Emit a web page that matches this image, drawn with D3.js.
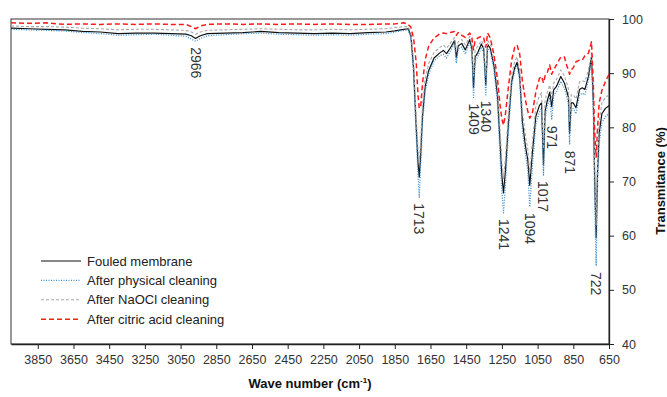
<!DOCTYPE html>
<html>
<head>
<meta charset="utf-8">
<style>
    body { margin: 0; background: #fff; }
    svg { font-family: "Liberation Sans", Arial, sans-serif; }
    .axis .domain { stroke: #222; stroke-width: 1.3px; }
    .axis .tick line { stroke: #222; }
    .axis .tick text { font-size: 12.5px; fill: #333; }
    .axis-title { font-size: 13px; font-weight: bold; fill: #111; }
    .peak { font-size: 14px; fill: #333; }
    .legend-text { font-size: 13px; fill: #222; }
</style>
</head>
<body>
<svg width="667" height="397"></svg>
<script src="https://d3js.org/d3.v7.min.js"></script>
<script>
// wave numbers (cm-1)
const waveNumbers = [
    4000, 3900, 3800, 3700, 3600, 3500, 3400, 3300, 3200, 3100,
    3020, 2990, 2966, 2940, 2900, 2800, 2700, 2600, 2500, 2400,
    2300, 2200, 2100, 2000, 1900, 1850, 1800, 1775, 1760, 1745,
    1730, 1720, 1713, 1705, 1695, 1680, 1660, 1630, 1600, 1578,
    1560, 1540, 1515, 1505, 1495, 1475, 1455, 1430, 1418, 1409,
    1400, 1385, 1365, 1352, 1340, 1330, 1315, 1295, 1275, 1260,
    1250, 1241, 1230, 1215, 1195, 1178, 1165, 1150, 1135, 1118,
    1105, 1094, 1080, 1060, 1040, 1028, 1017, 1008, 995, 982,
    971, 960, 945, 920, 900, 885, 877, 871, 862, 850,
    835, 815, 800, 785, 765, 748, 738, 730, 722, 714,
    705, 690, 670, 650
]

const fouled = [
    98.3, 98.2, 98.1, 98.0, 97.7, 97.6, 97.3, 97.4, 97.4, 97.3,
    97.2, 96.9, 96.4, 96.9, 97.3, 97.4, 97.5, 97.7, 97.5, 97.4,
    97.3, 97.4, 97.3, 97.5, 97.6, 97.8, 98.1, 98.2, 97.0, 91.0,
    80.0, 73.5, 70.8, 75.0, 82.0, 87.5, 90.5, 92.8, 93.7, 94.2,
    93.6, 94.6, 96.0, 92.8, 95.0, 95.5, 94.3, 96.2, 94.5, 87.3,
    93.0, 93.8, 95.4, 94.5, 87.8, 95.3, 94.6, 91.5, 86.0, 77.0,
    71.0, 67.9, 72.0, 80.0, 88.5, 91.0, 92.0, 89.3, 81.0, 76.5,
    74.0, 69.3, 75.0, 82.0, 84.0, 84.5, 73.0, 83.0, 85.0, 86.5,
    83.8, 86.9, 87.5, 89.4, 88.2, 86.5, 85.5, 78.9, 84.5, 84.5,
    83.6, 87.0, 87.3, 87.0, 89.4, 93.0, 85.0, 70.0, 59.6, 72.0,
    79.0, 82.5, 83.5, 84.0
]

const physical = [
    98.1, 98.0, 97.9, 97.8, 97.5, 97.3, 97.0, 97.1, 97.2, 97.0,
    96.8, 96.3, 95.9, 96.4, 96.9, 97.1, 97.3, 97.4, 97.2, 97.1,
    97.0, 97.1, 97.0, 97.2, 97.3, 97.6, 97.9, 98.0, 96.5, 90.0,
    78.5, 71.5, 67.1, 73.0, 80.5, 86.5, 89.8, 92.2, 93.2, 93.5,
    92.8, 94.0, 95.5, 91.8, 94.5, 94.8, 93.5, 95.8, 93.5, 85.5,
    92.2, 93.0, 94.8, 93.8, 86.0, 94.8, 94.0, 90.8, 84.5, 74.5,
    68.0, 64.2, 69.5, 78.5, 87.8, 90.5, 91.5, 88.5, 79.5, 75.0,
    72.0, 65.3, 72.5, 80.5, 82.8, 83.5, 71.2, 81.5, 84.0, 85.5,
    81.4, 85.8, 86.5, 88.5, 87.2, 85.5, 84.0, 76.8, 83.0, 83.5,
    82.5, 86.0, 86.3, 86.0, 88.7, 92.5, 83.0, 66.0, 54.4, 69.0,
    77.0, 80.8, 82.0, 82.5
]

const naocl = [
    98.7, 98.6, 98.6, 98.5, 98.3, 98.2, 98.0, 98.1, 98.1, 98.0,
    97.9, 97.6, 97.2, 97.6, 97.9, 98.0, 98.1, 98.2, 98.1, 98.0,
    98.0, 98.1, 98.0, 98.1, 98.2, 98.4, 98.6, 98.6, 97.6, 92.5,
    82.0, 76.0, 73.5, 77.5, 84.0, 89.0, 91.8, 93.8, 94.7, 95.2,
    94.6, 95.5, 96.6, 94.0, 95.8, 96.2, 95.2, 96.8, 95.5, 89.5,
    94.2, 95.0, 96.0, 95.3, 89.5, 96.0, 95.4, 92.6, 87.5, 79.5,
    73.5, 70.5, 74.5, 82.0, 89.8, 92.2, 93.0, 90.5, 83.0, 78.5,
    76.0, 71.5, 77.0, 83.8, 85.8, 86.4, 76.0, 85.0, 86.6, 87.8,
    85.5, 88.2, 88.8, 90.6, 89.5, 88.0, 87.0, 81.0, 86.0, 86.0,
    85.2, 88.4, 88.6, 88.4, 90.6, 93.8, 87.0, 73.0, 62.0, 74.5,
    81.0, 84.5, 85.5, 86.0
]

const citric = [
    99.3, 99.2, 99.3, 99.0, 99.1, 99.0, 99.1, 99.0, 99.1, 99.0,
    99.0, 98.6, 98.2, 98.7, 99.0, 99.1, 99.0, 99.1, 99.0, 99.1,
    99.0, 99.1, 99.0, 99.0, 99.1, 99.1, 99.3, 99.0, 98.5, 96.5,
    92.0, 86.0, 83.5, 83.8, 88.0, 92.5, 95.0, 96.5, 97.2, 97.4,
    97.3, 97.5, 97.7, 97.0, 97.5, 97.0, 96.6, 97.4, 96.5, 94.3,
    96.0, 96.5, 96.8, 96.5, 94.8, 97.4, 96.5, 93.5, 89.0, 84.0,
    81.5, 80.4, 82.5, 87.0, 92.5, 94.8, 95.2, 93.5, 88.5, 85.0,
    83.0, 81.7, 82.5, 86.5, 89.0, 89.4, 88.2, 89.5, 90.2, 91.5,
    89.8, 90.6, 91.5, 93.0, 93.0, 91.2, 90.6, 89.8, 90.6, 91.0,
    92.1, 92.4, 92.4, 93.2, 93.7, 95.8, 88.0, 79.0, 74.5, 80.0,
    84.5, 86.8, 88.4, 89.8
]

const seriesNames = ["Fouled membrane", "After physical cleaning", "After NaOCl cleaning", "After citric acid cleaning"]
const peakLabels = [2966, 1713, 1409, 1340, 1241, 1094, 1017, 971, 871, 722]
const xTicks = [3850, 3650, 3450, 3250, 3050, 2850, 2650, 2450, 2250, 2050, 1850, 1650, 1450, 1250, 1050, 850, 650]
const yTicks = [40, 50, 60, 70, 80, 90, 100]

let svg = d3.select("svg")

let plot = { left: 11, right: 609, top: 19, bottom: 344 }

let x = d3.scaleLinear().domain([4000, 650]).range([plot.left, plot.right])
let y = d3.scaleLinear().domain([40, 100]).range([plot.bottom, plot.top])

let styles = [
    { color: "#111", width: 1.2, dash: null },
    { color: "#3a8fd0", width: 1.3, dash: "1,1.5" },
    { color: "#a8a8a8", width: 1.1, dash: "3,2" },
    { color: "#ff1a1a", width: 1.5, dash: "5,3" }
]

let allSeries = [fouled, physical, naocl, citric]

// plot frame
svg.append("rect")
    .attr("x", plot.left)
    .attr("y", plot.top)
    .attr("width", plot.right - plot.left)
    .attr("height", plot.bottom - plot.top)
    .attr("fill", "none")
    .attr("stroke", "#333")
    .attr("stroke-width", 1)

svg.append("clipPath").attr("id", "clip")
    .append("rect")
    .attr("x", plot.left)
    .attr("y", plot.top)
    .attr("width", plot.right - plot.left)
    .attr("height", plot.bottom - plot.top)

let line = d3.line()
    .x((d, i) => x(waveNumbers[i]))
    .y(d => y(d))

svg.append("g")
    .attr("clip-path", "url(#clip)")
    .selectAll("path")
    .data(allSeries)
    .join("path")
    .attr("fill", "none")
    .attr("stroke", (d, i) => styles[i].color)
    .attr("stroke-width", (d, i) => styles[i].width)
    .attr("stroke-dasharray", (d, i) => styles[i].dash)
    .attr("stroke-linejoin", "round")
    .attr("d", line)

// axes
svg.append("g")
    .attr("class", "x axis")
    .attr("transform", `translate(0, ${plot.bottom})`)
    .call(d3.axisBottom(x).tickValues(xTicks).tickFormat(d3.format("d"))
        .tickSize(5).tickPadding(6).tickSizeOuter(0))

svg.append("g")
    .attr("class", "y axis")
    .attr("transform", `translate(${plot.right}, 0)`)
    .call(d3.axisRight(y).tickValues(yTicks).tickSize(5).tickPadding(8).tickSizeOuter(0))

// axis titles
let xTitle = svg.append("text")
    .attr("class", "axis-title")
    .attr("x", 310)
    .attr("y", 388)
    .attr("text-anchor", "middle")
xTitle.append("tspan").text("Wave number (cm")
xTitle.append("tspan").attr("dy", -5).style("font-size", "8px").text("-1")
xTitle.append("tspan").attr("dy", 5).text(")")

svg.append("text")
    .attr("class", "axis-title")
    .attr("transform", "translate(660, 181) rotate(-90)")
    .attr("text-anchor", "middle")
    .attr("dominant-baseline", "central")
    .text("Transmitance (%)")

// peak labels, hung just under the deepest (physical cleaning) trace
svg.append("g")
    .selectAll("text")
    .data(peakLabels)
    .join("text")
    .attr("class", "peak")
    .attr("transform", d => {
        let i = waveNumbers.indexOf(d)
        return `translate(${x(d)}, ${y(physical[i]) + 6}) rotate(90)`
    })
    .attr("dominant-baseline", "central")
    .text(d => d)

// legend
let legend = svg.append("g")
    .selectAll("g")
    .data(seriesNames)
    .join("g")
    .attr("transform", (d, i) => `translate(41, ${261 + i * 19.4})`)

legend.append("line")
    .attr("x1", 0)
    .attr("x2", 40)
    .attr("stroke", (d, i) => styles[i].color)
    .attr("stroke-width", (d, i) => styles[i].width)
    .attr("stroke-dasharray", (d, i) => styles[i].dash)

legend.append("text")
    .attr("class", "legend-text")
    .attr("x", 46)
    .attr("dominant-baseline", "central")
    .text(d => d)
</script>
</body>
</html>
